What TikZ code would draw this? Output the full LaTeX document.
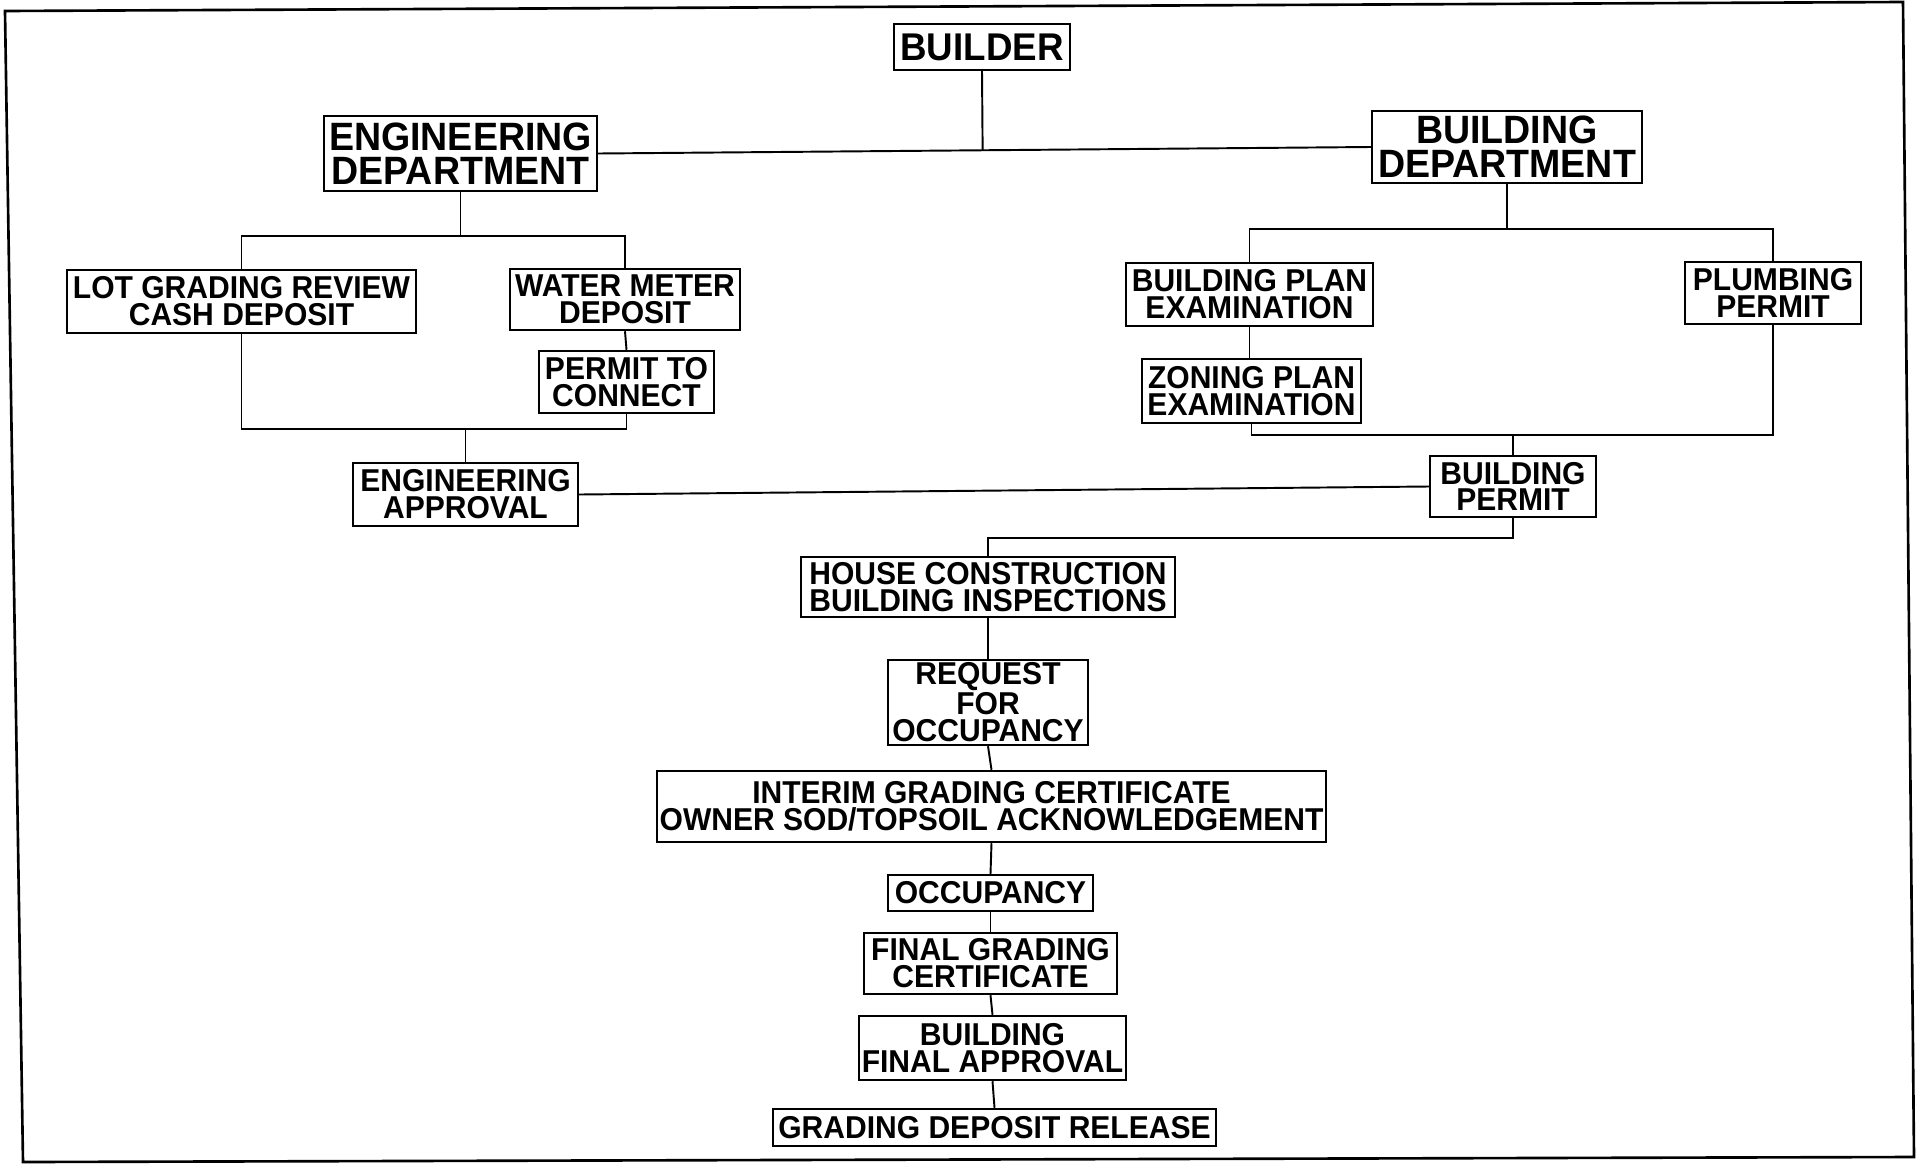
\documentclass[tikz,border=0pt]{standalone}
\usepackage{fontspec}
\setmainfont{Liberation Sans}[FakeStretch=0.95]
\usetikzlibrary{calc}
\begin{document}
\begin{tikzpicture}[x=0.02cm,y=-0.02cm,
  box/.style={draw, line width=1.4pt, inner sep=0pt, align=center,
    font=\bfseries\fontsize{18}{15.3}\selectfont},
  bigbox/.style={box, font=\bfseries\fontsize{22.5}{19.3}\selectfont},
  wire/.style={line width=1.1pt},
  frame/.style={line width=1.5pt}]
\path[use as bounding box] (0,0) rectangle (1917,1167);
\draw[frame] (5,11) -- (1903,2) -- (1914,1157) -- (23,1162) -- cycle;

% nodes
\node[box, minimum width=3.52cm, minimum height=0.92cm,
  font=\bfseries\fontsize{22}{18}\selectfont] (builder) at (982,47) {BUILDER};
\node[bigbox, minimum width=5.46cm, minimum height=1.5cm] (eng) at (460.5,153.5) {ENGINEERING\\DEPARTMENT};
\node[bigbox, minimum width=5.4cm, minimum height=1.44cm] (bld) at (1507,147) {BUILDING\\DEPARTMENT};
\node[box, minimum width=6.98cm, minimum height=1.26cm] (lot) at (241.5,301.5) {LOT GRADING REVIEW\\CASH DEPOSIT};
\node[box, minimum width=4.6cm, minimum height=1.22cm] (water) at (625,299.5) {WATER METER\\DEPOSIT};
\node[box, minimum width=3.5cm, minimum height=1.24cm] (permit) at (626.5,382) {PERMIT TO\\CONNECT};
\node[box, minimum width=4.94cm, minimum height=1.26cm] (bpe) at (1249.5,294.5) {BUILDING PLAN\\EXAMINATION};
\node[box, minimum width=3.52cm, minimum height=1.24cm] (plumb) at (1773,293) {PLUMBING\\PERMIT};
\node[box, minimum width=4.38cm, minimum height=1.28cm] (zon) at (1251.5,391) {ZONING PLAN\\EXAMINATION};
\node[box, minimum width=4.5cm, minimum height=1.26cm] (engappr) at (465.5,494.5) {ENGINEERING\\APPROVAL};
\node[box, minimum width=3.32cm, minimum height=1.22cm] (bpermit) at (1513,486.5) {BUILDING\\PERMIT};
\node[box, minimum width=7.48cm, minimum height=1.2cm] (house) at (988,587) {HOUSE CONSTRUCTION\\BUILDING INSPECTIONS};
\node[box, minimum width=4.0cm, minimum height=1.7cm] (request) at (988,702.5) {REQUEST\\FOR\\OCCUPANCY};
\node[box, minimum width=13.38cm, minimum height=1.42cm] (interim) at (991.5,806.5) {INTERIM GRADING CERTIFICATE\\OWNER SOD/TOPSOIL ACKNOWLEDGEMENT};
\node[box, minimum width=4.1cm, minimum height=0.72cm] (occ) at (990.5,893) {OCCUPANCY};
\node[box, minimum width=5.06cm, minimum height=1.22cm] (fgc) at (990.5,963.5) {FINAL GRADING\\CERTIFICATE};
\node[box, minimum width=5.34cm, minimum height=1.28cm] (bfa) at (992.5,1048) {BUILDING\\FINAL APPROVAL};
\node[box, minimum width=8.86cm, minimum height=0.74cm] (gdr) at (994.5,1127.5) {GRADING DEPOSIT RELEASE};

% bus coordinates
\coordinate (j0) at ($(eng.east)!(builder.south)!(bld.west)$);
\coordinate (eb) at (460.5,236);
\coordinate (ea) at (465.5,429);
\coordinate (bb) at (1507,229);
\coordinate (bp) at (1513,435);
\coordinate (hb) at (988,538);

% connectors
\draw[wire] (eng.east) -- (bld.west);
\draw[wire] (builder.south) -- (j0);
\draw[wire] (eng.south) -- (eb);
\draw[wire] (lot.north) -- (lot.north |- eb) -- (water.north |- eb) -- (water.north);
\draw[wire] (water.south) -- (permit.north);
\draw[wire] (lot.south) -- (lot.south |- ea) -- (permit.south |- ea) -- (permit.south);
\draw[wire] (ea) -- (engappr.north);
\draw[wire] (bld.south) -- (bb);
\draw[wire] (bpe.north) -- (bpe.north |- bb) -- (plumb.north |- bb) -- (plumb.north);
\draw[wire] (bpe.south) -- (bpe.south |- zon.north);
\draw[wire] (zon.south) -- (zon.south |- bp) -- (plumb.south |- bp) -- (plumb.south);
\draw[wire] (bp) -- (bpermit.north);
\draw[wire] (engappr.east) -- (bpermit.west);
\draw[wire] (bpermit.south) -- (bpermit.south |- hb) -- (hb) -- (house.north);
\draw[wire] (house.south) -- (request.north);
\draw[wire] (request.south) -- (interim.north);
\draw[wire] (interim.south) -- (occ.north);
\draw[wire] (occ.south) -- (fgc.north);
\draw[wire] (fgc.south) -- (bfa.north);
\draw[wire] (bfa.south) -- (gdr.north);
\end{tikzpicture}
\end{document}
